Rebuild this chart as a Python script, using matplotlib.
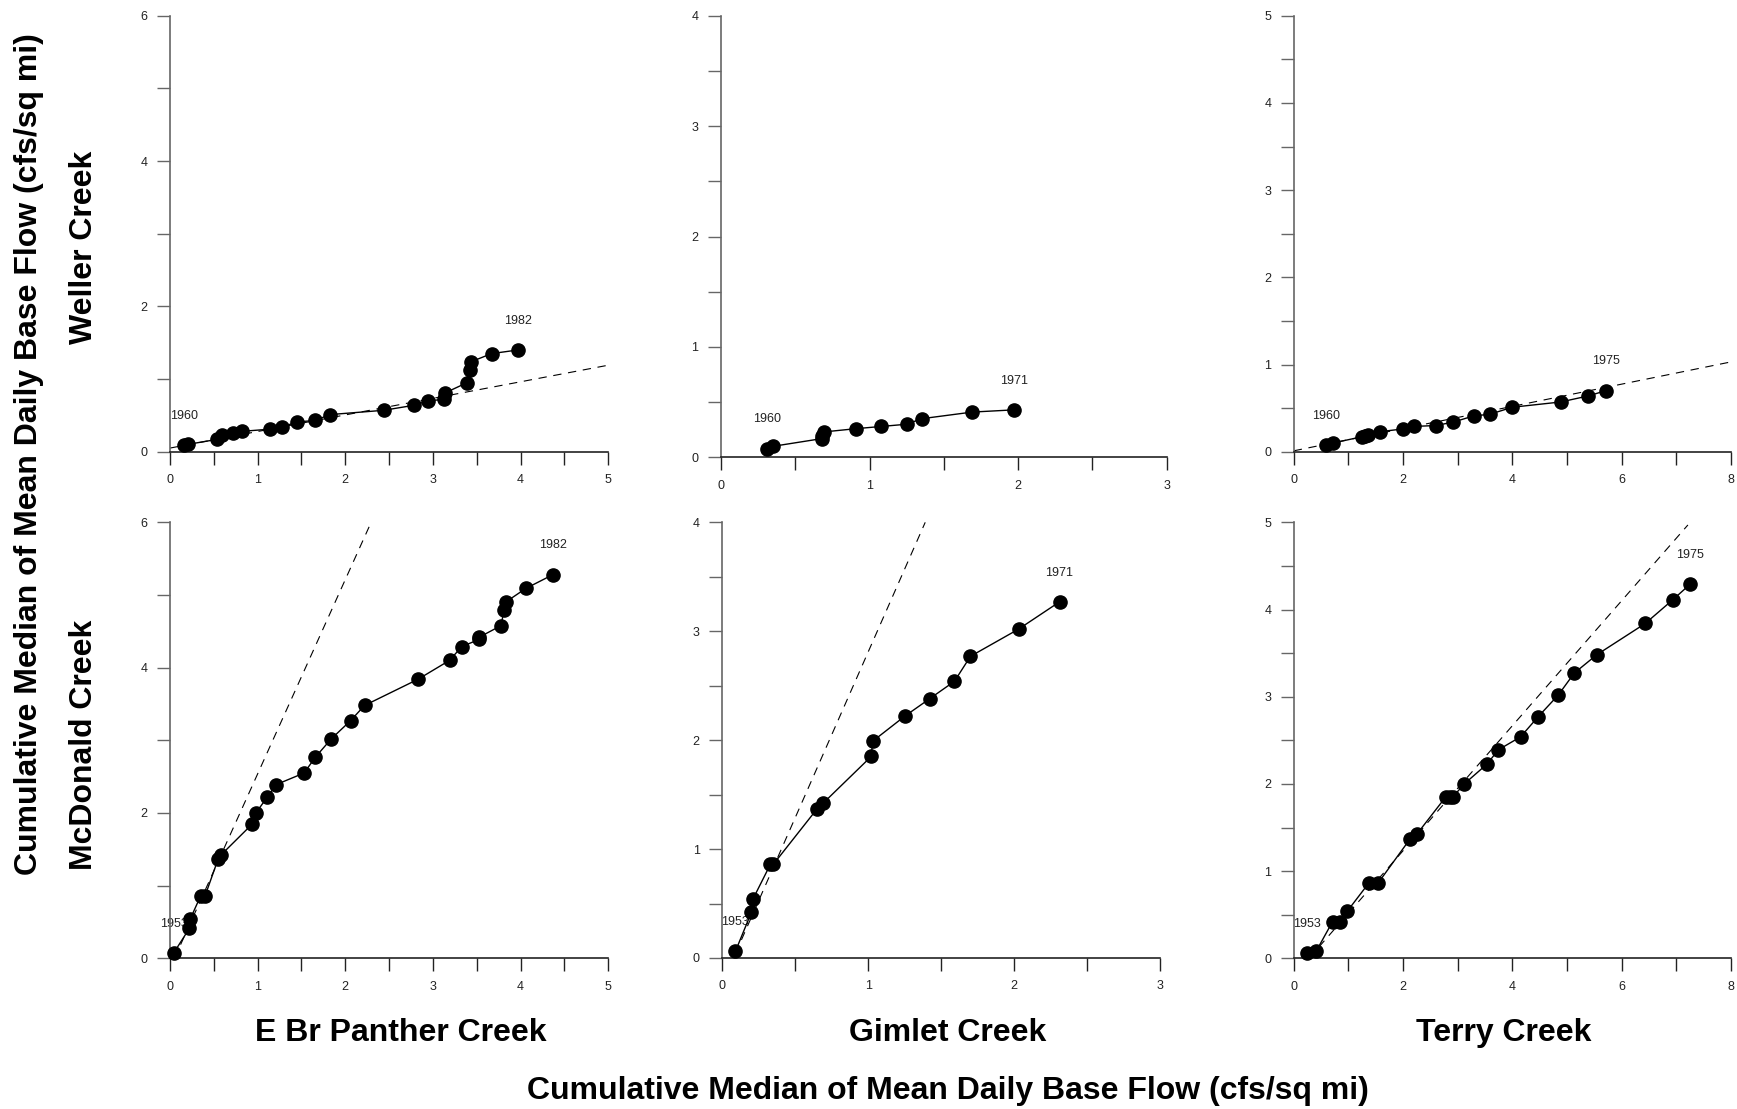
import matplotlib
matplotlib.use("Agg")
import matplotlib.pyplot as plt
from matplotlib.ticker import MultipleLocator

plt.rcParams['font.family'] = ['Liberation Sans', 'DejaVu Sans']

"""DATA"""
# Weller Creek vs E Br Panther Creek (1960-1982)
wel_pan_x = [0.16, 0.20, 0.54, 0.59, 0.72, 0.82, 1.14, 1.28, 1.45, 1.66, 1.82, 2.44, 2.79, 2.94,
             3.13, 3.14, 3.39, 3.42, 3.44, 3.67, 3.97]
wel_pan_y = [0.09, 0.10, 0.17, 0.23, 0.26, 0.28, 0.31, 0.34, 0.41, 0.43, 0.51, 0.57, 0.64, 0.70,
             0.72, 0.81, 0.95, 1.13, 1.24, 1.35, 1.40]
wel_pan_fit_x = [0.0, 5.0]
wel_pan_fit_y = [0.05, 1.19]

# Weller Creek vs Gimlet Creek (1960-1971)
wel_gim_x = [0.31, 0.35, 0.68, 0.68, 0.69, 0.91, 1.08, 1.25, 1.35, 1.69, 1.97]
wel_gim_y = [0.08, 0.10, 0.17, 0.19, 0.23, 0.26, 0.28, 0.30, 0.35, 0.41, 0.43]

# Weller Creek vs Terry Creek (1960-1975)
wel_ter_x = [0.59, 0.72, 1.24, 1.31, 1.35, 1.58, 1.99, 2.20, 2.60, 2.92, 3.29, 3.59, 4.00, 4.88,
             5.39, 5.71]
wel_ter_y = [0.08, 0.10, 0.17, 0.18, 0.19, 0.23, 0.26, 0.29, 0.30, 0.34, 0.41, 0.43, 0.51, 0.57,
             0.64, 0.70]
wel_ter_fit_x = [0.0, 8.0]
wel_ter_fit_y = [0.01, 1.03]

# McDonald Creek vs E Br Panther Creek (1953-1982)
mcd_pan_x = [0.04, 0.22, 0.23, 0.35, 0.40, 0.55, 0.58, 0.94, 0.98, 1.11, 1.21, 1.53, 1.66, 1.84,
             2.06, 2.22, 2.83, 3.19, 3.33, 3.53, 3.53, 3.78, 3.81, 3.84, 4.06, 4.37]
mcd_pan_y = [0.07, 0.41, 0.54, 0.86, 0.86, 1.37, 1.42, 1.85, 2.00, 2.22, 2.39, 2.55, 2.77, 3.02,
             3.27, 3.48, 3.84, 4.10, 4.29, 4.39, 4.42, 4.58, 4.80, 4.91, 5.09, 5.28]
mcd_pan_fit_x = [0.05, 2.28]
mcd_pan_fit_y = [0.0, 5.96]

# McDonald Creek vs Gimlet Creek (1953-1971)
mcd_gim_x = [0.09, 0.20, 0.21, 0.33, 0.35, 0.65, 0.69, 1.02, 1.03, 1.25, 1.42, 1.59, 1.70, 2.03, 2.31]
mcd_gim_y = [0.06, 0.42, 0.54, 0.86, 0.86, 1.37, 1.42, 1.85, 1.99, 2.22, 2.38, 2.54, 2.77, 3.02, 3.27]
mcd_gim_fit_x = [0.09, 1.39]
mcd_gim_fit_y = [0.04, 4.0]

# McDonald Creek vs Terry Creek (1953-1975)
mcd_ter_x = [0.24, 0.41, 0.71, 0.84, 0.98, 1.37, 1.54, 2.13, 2.26, 2.78, 2.85, 2.91, 3.12, 3.54,
             3.74, 4.15, 4.47, 4.84, 5.13, 5.54, 6.43, 6.93, 7.25]
mcd_ter_y = [0.06, 0.08, 0.42, 0.42, 0.54, 0.86, 0.86, 1.37, 1.43, 1.85, 1.85, 1.85, 2.00, 2.23,
             2.39, 2.54, 2.77, 3.02, 3.27, 3.48, 3.84, 4.11, 4.29]
mcd_ter_fit_x = [0.28, 7.21]
mcd_ter_fit_y = [0.0, 4.97]

#Graphing
fig = plt.figure(figsize=(17.37, 11.09), dpi=100)

# left, bottom, width, height in figure fractions
rects = [
    [0.0979, 0.5927, 0.2522, 0.3931],
    [0.4151, 0.5876, 0.2566, 0.3982],
    [0.7448, 0.5927, 0.2518, 0.3931],
    [0.0979, 0.1359, 0.2522, 0.3931],
    [0.4158, 0.1362, 0.2522, 0.3928],
    [0.7448, 0.1359, 0.2518, 0.3931],
]

panels = [
    (wel_pan_x, wel_pan_y, wel_pan_fit_x, wel_pan_fit_y, ('1960', '1982'), 5, 6, 1, 0.5, 2, 1),
    (wel_gim_x, wel_gim_y, None, None, ('1960', '1971'), 3, 4, 1, 0.5, 1, 0.5),
    (wel_ter_x, wel_ter_y, wel_ter_fit_x, wel_ter_fit_y, ('1960', '1975'), 8, 5, 2, 1, 1, 0.5),
    (mcd_pan_x, mcd_pan_y, mcd_pan_fit_x, mcd_pan_fit_y, ('1953', '1982'), 5, 6, 1, 0.5, 2, 1),
    (mcd_gim_x, mcd_gim_y, mcd_gim_fit_x, mcd_gim_fit_y, ('1953', '1971'), 3, 4, 1, 0.5, 1, 0.5),
    (mcd_ter_x, mcd_ter_y, mcd_ter_fit_x, mcd_ter_fit_y, ('1953', '1975'), 8, 5, 2, 1, 1, 0.5),
]

for rect, p in zip(rects, panels):
    x, y, fx, fy, yrs, xmax, ymax, xmaj, xmin_, ymaj, ymin_ = p
    ax = fig.add_axes(rect)
    if fx is not None:
        ax.plot(fx, fy, color='black', lw=0.8, dashes=(7.5, 6), zorder=2)
    ax.plot(x, y, color='black', lw=1.0, marker='o', ms=9.5, mfc='black', mec='black',
            zorder=3, clip_on=False)
    ax.annotate(yrs[0], (x[0], y[0]), xytext=(0, 21), textcoords='offset points',
                ha='center', va='center', fontsize=9, color='#222222', zorder=1)
    ax.annotate(yrs[1], (x[-1], y[-1]), xytext=(0, 21), textcoords='offset points',
                ha='center', va='center', fontsize=9, color='#222222', zorder=1)
    ax.set_xlim(0, xmax)
    ax.set_ylim(0, ymax)
    ax.xaxis.set_major_locator(MultipleLocator(xmaj))
    ax.xaxis.set_minor_locator(MultipleLocator(xmin_))
    ax.yaxis.set_major_locator(MultipleLocator(ymaj))
    ax.yaxis.set_minor_locator(MultipleLocator(ymin_))
    ax.spines['top'].set_visible(False)
    ax.spines['right'].set_visible(False)
    ax.spines['left'].set_color('#666666')
    ax.spines['bottom'].set_color('#222222')
    ax.spines['left'].set_linewidth(1.2)
    ax.spines['bottom'].set_linewidth(1.2)
    ax.tick_params(which='both', direction='out', length=9.7, width=1.0, labelsize=9,
                   labelcolor='#222222', pad=6.5)
    ax.tick_params(axis='y', which='both', color='#666666')
    ax.tick_params(axis='x', which='both', color='#222222')
    ax.patch.set_visible(False)

# titles
fs = 23
fig.text(400.8 / 1737, 1 - 1033 / 1109, 'E Br Panther Creek', ha='center', va='center',
         fontsize=fs, fontweight='bold')
fig.text(948 / 1737, 1 - 1033 / 1109, 'Gimlet Creek', ha='center', va='center',
         fontsize=fs, fontweight='bold')
fig.text(1504 / 1737, 1 - 1033 / 1109, 'Terry Creek', ha='center', va='center',
         fontsize=fs, fontweight='bold')
fig.text(83.5 / 1737, 1 - 247 / 1109, 'Weller Creek', ha='center', va='center',
         rotation=90, fontsize=fs, fontweight='bold')
fig.text(83.5 / 1737, 1 - 745 / 1109, 'McDonald Creek', ha='center', va='center',
         rotation=90, fontsize=fs, fontweight='bold')
fig.text(29 / 1737, 1 - 454 / 1109, 'Cumulative Median of Mean Daily Base Flow (cfs/sq mi)',
         ha='center', va='center', rotation=90, fontsize=fs, fontweight='bold')
fig.text(948 / 1737, 1 - 1091 / 1109, 'Cumulative Median of Mean Daily Base Flow (cfs/sq mi)',
         ha='center', va='center', fontsize=fs, fontweight='bold')

plt.savefig('out.png', dpi=100)
